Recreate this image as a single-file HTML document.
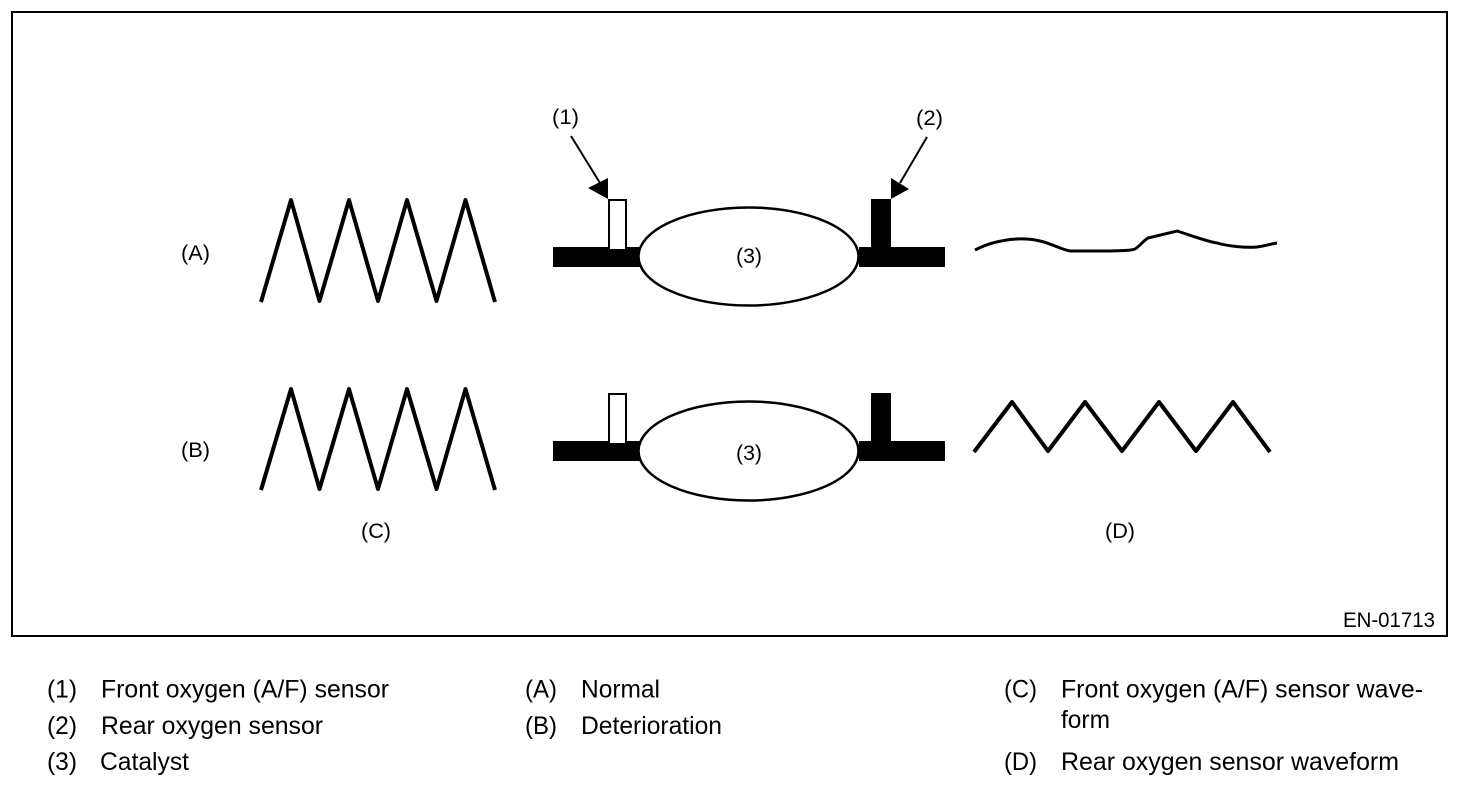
<!DOCTYPE html>
<html><head><meta charset="utf-8"><style>
html,body{margin:0;padding:0;background:#fff;width:1472px;height:788px;overflow:hidden}
svg{display:block}
text{font-family:"Liberation Sans",sans-serif;fill:#000}
.s{font-size:21px}
.l{font-size:25px}
.w{fill:none;stroke:#000;stroke-width:4;stroke-linejoin:round}
</style></head><body>
<svg width="1472" height="788" viewBox="0 0 1472 788" xmlns="http://www.w3.org/2000/svg">
<rect x="12" y="12" width="1435" height="624" fill="#fff" stroke="#000" stroke-width="2"/>
<polyline class="w" points="261,302 291,200 319.500,301 349,200 378,301 407,200 436.500,301 465.500,200 495,302"/>
<polyline class="w" points="261,490 291,389 319.500,489 349,389 378,489 407,389 436.500,489 465.500,389 495,490"/>
<polyline class="w" points="974,452 1012,402 1048,451 1085,402 1122,451 1159,402 1196,451 1233,402 1270,452"/>
<path d="M975,250 C985,245 993,242 1010,239.500 C1020,238.500 1030,238.500 1040,241 C1050,243 1060,249 1070,251 L1110,251 C1120,250.500 1130,251 1135,249 C1140,246 1143,241 1148,238 L1177,231 C1190,235 1205,241 1217,243 C1227,246 1245,248 1257,247 C1265,246 1270,244 1277,243" fill="none" stroke="#000" stroke-width="3"/>
<rect x="553" y="247" width="87" height="20"/>
<rect x="859" y="247" width="86" height="20"/>
<rect x="871" y="199" width="20" height="50"/>
<rect x="609" y="200" width="17" height="50" fill="#fff" stroke="#000" stroke-width="2"/>
<ellipse cx="748.500" cy="256.500" rx="110" ry="49" fill="#fff" stroke="#000" stroke-width="2.500"/>
<rect x="553" y="441" width="87" height="20"/>
<rect x="859" y="441" width="86" height="20"/>
<rect x="871" y="393" width="20" height="50"/>
<rect x="609" y="394" width="17" height="50" fill="#fff" stroke="#000" stroke-width="2"/>
<ellipse cx="748.500" cy="451" rx="110" ry="49.500" fill="#fff" stroke="#000" stroke-width="2.500"/>
<line x1="571" y1="136" x2="600" y2="183" stroke="#000" stroke-width="2"/>
<polygon points="588,188 608,178 608,199"/>
<line x1="927" y1="137" x2="900" y2="183" stroke="#000" stroke-width="2"/>
<polygon points="891,178 909,189 891,199"/>
<text class="s" x="552" y="124" textLength="27" lengthAdjust="spacingAndGlyphs">(1)</text>
<text class="s" x="916" y="125" textLength="27" lengthAdjust="spacingAndGlyphs">(2)</text>
<text class="s" x="736" y="263" textLength="26" lengthAdjust="spacingAndGlyphs">(3)</text>
<text class="s" x="736" y="460" textLength="26" lengthAdjust="spacingAndGlyphs">(3)</text>
<text class="s" x="181" y="260" textLength="29" lengthAdjust="spacingAndGlyphs">(A)</text>
<text class="s" x="181" y="457" textLength="29" lengthAdjust="spacingAndGlyphs">(B)</text>
<text class="s" x="361" y="538" textLength="30" lengthAdjust="spacingAndGlyphs">(C)</text>
<text class="s" x="1105" y="538" textLength="30" lengthAdjust="spacingAndGlyphs">(D)</text>
<text class="s" x="1343" y="627" textLength="92" lengthAdjust="spacingAndGlyphs">EN-01713</text>
<text class="l" x="47" y="697.500" textLength="30" lengthAdjust="spacingAndGlyphs">(1)</text>
<text class="l" x="101" y="697.500" textLength="288" lengthAdjust="spacingAndGlyphs">Front oxygen (A/F) sensor</text>
<text class="l" x="47" y="734" textLength="30" lengthAdjust="spacingAndGlyphs">(2)</text>
<text class="l" x="101" y="734" textLength="222" lengthAdjust="spacingAndGlyphs">Rear oxygen sensor</text>
<text class="l" x="47" y="770" textLength="30" lengthAdjust="spacingAndGlyphs">(3)</text>
<text class="l" x="100" y="770" textLength="89" lengthAdjust="spacingAndGlyphs">Catalyst</text>
<text class="l" x="525" y="697.500" textLength="32" lengthAdjust="spacingAndGlyphs">(A)</text>
<text class="l" x="581" y="697.500" textLength="79" lengthAdjust="spacingAndGlyphs">Normal</text>
<text class="l" x="525" y="734" textLength="32" lengthAdjust="spacingAndGlyphs">(B)</text>
<text class="l" x="581" y="734" textLength="141" lengthAdjust="spacingAndGlyphs">Deterioration</text>
<text class="l" x="1004" y="697.500" textLength="33" lengthAdjust="spacingAndGlyphs">(C)</text>
<text class="l" x="1061" y="697.500" textLength="362" lengthAdjust="spacingAndGlyphs">Front oxygen (A/F) sensor wave-</text>
<text class="l" x="1061" y="728" textLength="49" lengthAdjust="spacingAndGlyphs">form</text>
<text class="l" x="1004" y="770" textLength="33" lengthAdjust="spacingAndGlyphs">(D)</text>
<text class="l" x="1061" y="770" textLength="338" lengthAdjust="spacingAndGlyphs">Rear oxygen sensor waveform</text>
</svg>
</body></html>
